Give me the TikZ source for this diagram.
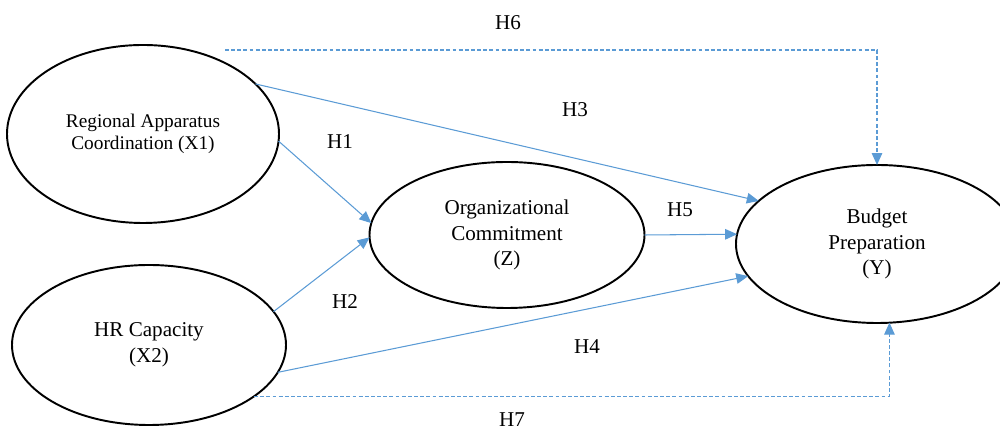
\documentclass[tikz,border=0pt]{standalone}
\usepackage{fontspec}
\setmainfont{Liberation Serif}
\usetikzlibrary{shapes.geometric,arrows.meta}
\definecolor{pathblue}{HTML}{5B9BD5}

\begin{document}
\begin{tikzpicture}[
    construct/.style={ellipse, draw=black, line width=1.1pt, inner sep=0pt, outer sep=0pt, align=center, font=\fontsize{12}{14.5}\selectfont},
    effect/.style={draw=pathblue, line width=0.6pt, -{Triangle[length=6.8pt,width=6pt]}},
    indirect/.style={effect, dash pattern=on 2.2pt off 1.3pt},
    hyp/.style={font=\fontsize{12}{14}\selectfont}
]
    \useasboundingbox (0,0) rectangle (20,8.64);

    % Constructs
    \node[construct, minimum width=5.44cm, minimum height=3.56cm, font=\fontsize{11}{12.2}\selectfont] (x1) at (2.86,5.96) {Regional Apparatus\\Coordination (X1)};
    \node[construct, minimum width=5.48cm, minimum height=3.2cm] (x2) at (2.98,1.74) {HR Capacity\\(X2)};
    \node[construct, minimum width=5.5cm, minimum height=2.92cm] (z) at (10.14,3.94) {Organizational\\Commitment\\(Z)};
    \node[construct, minimum width=5.64cm, minimum height=3.16cm] (y) at (17.54,3.76) {Budget\\Preparation\\(Y)};

    % Direct paths
    \draw[effect] (x1.-3) -- (z.175);
    \draw[effect] (x2.15) -- (z.181);
    \draw[effect] (x1.24) -- (y.160);
    \draw[effect] (x2.-12) -- (y.194);
    \draw[effect] (z.0) -- (y.176);

    % Paths through Z
    \coordinate (h6start) at (4.5,7.64);
    \draw[indirect] (h6start) -| (y.north);
    \draw[indirect] (x2.-26) -| (y.-81);

    % Hypothesis labels
    \node[hyp] (h1) at (6.8,5.8) {H1};
    \node[hyp] (h2) at (6.9,2.6) {H2};
    \node[hyp] (h3) at (11.5,6.44) {H3};
    \node[hyp] (h4) at (11.74,1.7) {H4};
    \node[hyp] (h5) at (13.6,4.44) {H5};
    \node[hyp] (h6) at (10.16,8.18) {H6};
    \node[hyp] (h7) at (10.24,0.24) {H7};
\end{tikzpicture}
\end{document}
